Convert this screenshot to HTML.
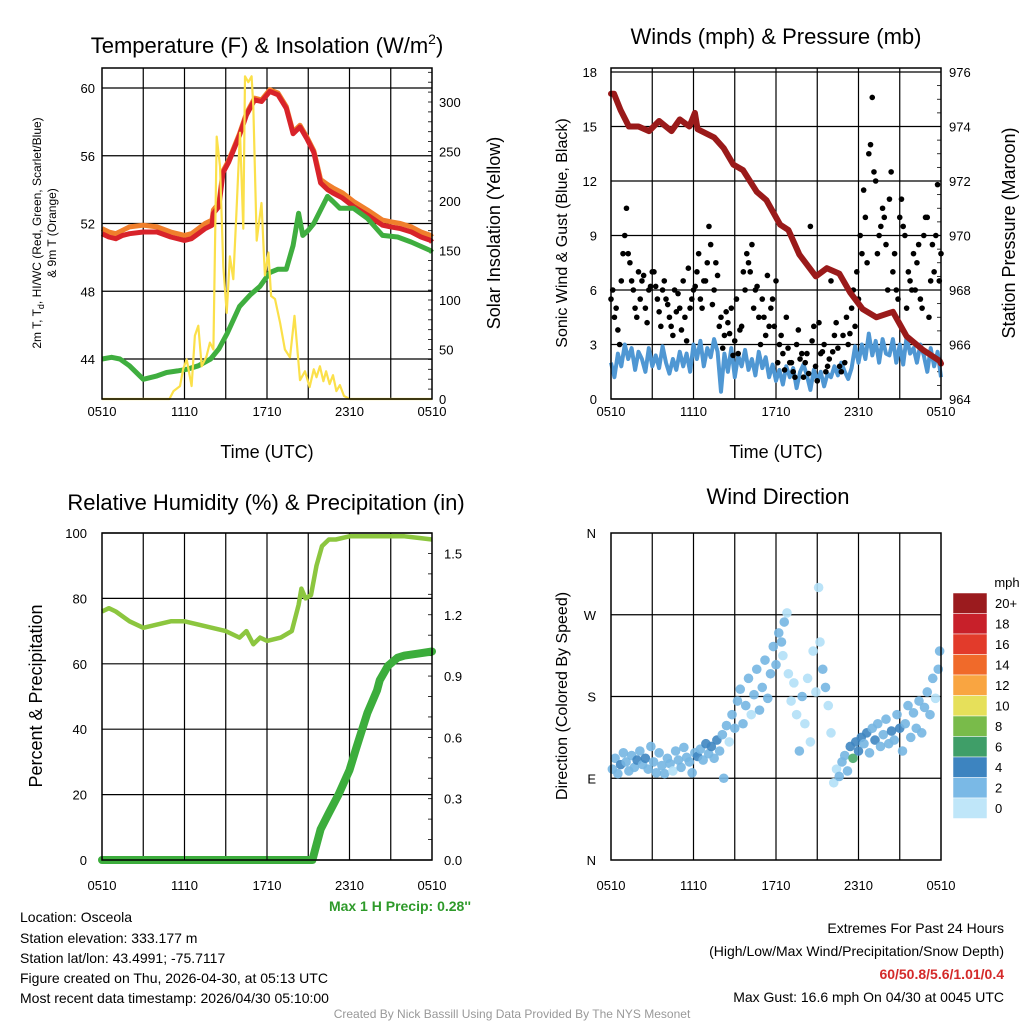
<!DOCTYPE html>
<html><head><meta charset="utf-8"><style>
html,body{margin:0;padding:0;background:#fff}
svg{display:block;font-family:"Liberation Sans",sans-serif}
</style></head><body>
<svg id="fig" width="1024" height="1024" viewBox="0 0 1024 1024" xmlns="http://www.w3.org/2000/svg">
<rect width="1024" height="1024" fill="#fff"/>
<g id="layer"></g>
<text x="267" y="53" font-size="22" text-anchor="middle">Temperature (F) &amp; Insolation (W/m<tspan font-size="14" dy="-9">2</tspan><tspan dy="9">)</tspan></text>
<text x="776" y="44" font-size="22" text-anchor="middle">Winds (mph) &amp; Pressure (mb)</text>
<text x="266" y="510" font-size="22" text-anchor="middle">Relative Humidity (%) &amp; Precipitation (in)</text>
<text x="778" y="504" font-size="22" text-anchor="middle">Wind Direction</text>
<text x="267" y="458" font-size="18" text-anchor="middle">Time (UTC)</text>
<text x="776" y="458" font-size="18" text-anchor="middle">Time (UTC)</text>
<text transform="translate(41,233) rotate(-90)" font-size="12" text-anchor="middle">2m T, T<tspan font-size="9" dy="3">d</tspan><tspan dy="-3">, HI/WC (Red, Green, Scarlet/Blue)</tspan></text>
<text transform="translate(56,233) rotate(-90)" font-size="12" text-anchor="middle">&amp; 9m T (Orange)</text>
<text transform="translate(500,233) rotate(-90)" font-size="18" text-anchor="middle">Solar Insolation (Yellow)</text>
<text transform="translate(567,233) rotate(-90)" font-size="16" text-anchor="middle">Sonic Wind &amp; Gust (Blue, Black)</text>
<text transform="translate(1015,233) rotate(-90)" font-size="18" text-anchor="middle">Station Pressure (Maroon)</text>
<text transform="translate(42,696) rotate(-90)" font-size="18" text-anchor="middle">Percent &amp; Precipitation</text>
<text transform="translate(567,696) rotate(-90)" font-size="16" text-anchor="middle">Direction (Colored By Speed)</text>
<text x="471" y="911" font-size="14" font-weight="bold" fill="#2e9a2a" text-anchor="end">Max 1 H Precip: 0.28''</text>
<g font-size="14">
<text x="20" y="922">Location: Osceola</text>
<text x="20" y="943">Station elevation: 333.177 m</text>
<text x="20" y="963">Station lat/lon: 43.4991; -75.7117</text>
<text x="20" y="983">Figure created on Thu, 2026-04-30, at 05:13 UTC</text>
<text x="20" y="1003">Most recent data timestamp: 2026/04/30 05:10:00</text>
</g>
<g font-size="14" text-anchor="end">
<text x="1004" y="933">Extremes For Past 24 Hours</text>
<text x="1004" y="956">(High/Low/Max Wind/Precipitation/Snow Depth)</text>
<text x="1004" y="979" font-weight="bold" fill="#d42a2a">60/50.8/5.6/1.01/0.4</text>
<text x="1004" y="1002">Max Gust: 16.6 mph On 04/30 at 0045 UTC</text>
</g>
<text x="512" y="1018" font-size="12" fill="#999" text-anchor="middle">Created By Nick Bassill Using Data Provided By The NYS Mesonet</text>
</svg>
<script>
const timeTicks = ["0510","1110","1710","2310","0510"];
const tempTicks = [44,48,52,56,60];
const solarTicks = [0,50,100,150,200,250,300];
const windTicks = [0,3,6,9,12,15,18];
const presTicks = [964,966,968,970,972,974,976];
const rhTicks = [0,20,40,60,80,100];
const precipTicks = [0.0,0.3,0.6,0.9,1.2,1.5];
const precipTickLabels = ["0.0","0.3","0.6","0.9","1.2","1.5"];
const dirTickLabels = ["N","E","S","W","N"];

const tempHours = [0,0.5,1,1.5,2,3,4,5,6,6.5,7,7.5,8,8.1,8.5,8.8,9.2,9.6,10,10.5,11.1,11.6,12.2,12.8,13.4,13.9,14.4,14.9,15.4,15.9,16.4,16.8,17.5,18.3,19.3,20.4,21.0,21.7,22.5,23.2,23.9,24];
const tempRed = [51.4,51.2,51.1,51.3,51.4,51.5,51.5,51.2,51.0,51.1,51.4,51.7,51.9,52.6,53.0,55.0,55.6,56.4,57.2,58.4,59.3,59.2,59.8,59.6,58.8,57.3,57.7,57.0,56.2,54.4,54.0,53.8,53.5,53.0,52.5,51.9,51.8,51.7,51.5,51.2,51.0,50.9];
const tempOrange = [51.7,51.5,51.4,51.6,51.8,51.9,51.8,51.5,51.3,51.4,51.7,52.0,52.2,52.8,53.2,55.1,55.7,56.5,57.3,58.5,59.4,59.3,59.9,59.7,58.9,57.4,57.8,57.1,56.3,54.6,54.3,54.1,53.8,53.3,52.8,52.2,52.1,52.0,51.8,51.5,51.3,51.2];
const dewHours = [0,0.7,1.3,2,3,4,4.7,5.5,6.2,7,7.9,8.5,9.1,10,10.8,11.5,12.2,12.8,13.4,13.9,14.3,14.6,15.0,15.4,15.9,16.4,16.8,17.3,18.3,19.3,20.4,21.5,22.5,23.9,24];
const dewGreen = [44.0,44.1,44.0,43.6,42.8,43.0,43.2,43.3,43.4,43.6,44.0,44.6,45.5,47.1,47.8,48.3,49.1,49.3,49.3,50.7,52.6,51.3,51.6,52.0,52.8,53.6,53.3,52.9,52.9,52.3,51.3,51.2,50.9,50.4,50.3];
const solarHours = [0,4.9,5.2,5.67,5.9,6.16,6.52,6.76,7.0,7.25,7.6,7.85,8.1,8.34,8.58,8.82,9.07,9.3,9.55,9.79,10.04,10.28,10.4,10.64,10.88,11.0,11.25,11.6,11.85,12.1,12.3,12.58,12.95,13.3,13.67,14.0,14.4,14.76,15.1,15.4,15.6,15.85,16.1,16.3,16.55,16.8,17.05,17.3,17.6,18.0,24];
const solarVals = [0,0,8,13,30,40,13,64,74,33,43,57,50,265,235,134,87,144,121,192,269,172,326,320,326,296,160,198,125,148,104,101,77,50,42,84,19,28,12,30,22,33,18,28,15,24,8,14,3,0,0];
const presHours = [0,0.22,0.7,1.3,2,2.76,3.5,4.4,5.0,5.7,6.1,6.3,7.5,8.2,8.9,9.6,10.6,11.3,12.3,12.9,13.7,14.9,15.7,16.6,17.4,18.3,19.3,20.5,21.5,22.7,23.9,24];
const presVals = [975.2,975.2,974.6,974.0,974.0,973.83,974.2,973.83,974.26,974.0,974.5,973.9,973.6,973.2,972.6,972.4,971.6,971.3,970.4,970.2,969.3,968.5,968.8,968.6,967.9,967.3,967.0,967.2,966.3,965.8,965.4,965.3];
const windVals = [2,1.2,2.5,1.8,3,2.2,2.8,1.6,2.6, 2.2,1.5,2.8,1.8,2.4,1.7,2.9,2, 1.4,2.2,1.6,2.6,1.8,2.5,1.5,3, 2.2,3.2,1.8,2.8,2.3,3.3,2.6,0.4, 2.5,1.5,2.8,1.2,2.4,1.8,2.7,1.6, 2.2,1.3,2.6,1.7,2.3,1.2,1.9,1, 1.6,0.8,1.8,1.2,1.7,0.6,1.5,1.9, 1.3,0.5,1.6,1,1.5,0.7,1.4,1.2, 1.8,1.3,2,1.5,1.1,1.7,2.9,2, 3,2.2,3.6,2.4,3.2,2,3.3,2.5, 2.4,3.3,2,3,1.9,3.4,2.5,2.8, 2,3,2.4,1.5,2.8,1.8,2.6,1.2];
const gustA = [5.5,4.5,3.8,6.5,9,8,6.5,5,7, 6.5,5,6,7,6.2,4.8,6,5.5, 4.5,3.5,4.8,5,6.5,3.2,5,6, 7,5.5,6.5,7.5,8.5,6,6.8,4.5, 3.5,4.2,5,3.2,2.5,4,6,7.5, 8.5,6,4.5,5.5,3.5,4,5.5,6.5, 3,2.5,4.5,2,1.5,3,2.2,1.2, 2.5,9.5,4,1,2.5,3,1.8,6.5, 3.5,2.8,1.5,2,3,5,4,5.5, 8,10,13.5,16.6,12,9,10.5,8.5, 11,7,6,10,9.5,5,6.5,8, 7.5,5.5,9,10,6.5,7,11.8,8];
const gustB = [6,5,3,8,10.5,7.5,6,4.5, 5.5,6.8,4.2,6.2,7,5.5,4,6.5, 5.2,4,6,5.8,3.8,4.5,7.2,5.5, 6.2,8,5,6.5,9.5,5.2,7.5,4, 2.8,4.8,3.6,2.4,5.5,3.8,7,8, 7,5,6.2,3,4.5,6.8,5,4, 2,3.5,1.6,2.8,2,1.2,3.8,2.5, 2,1.4,3.2,1.8,4.2,2.6,1.5,2.2, 2.6,4.2,1.8,3.5,4.5,3.6,6,7, 9,11.5,7.5,14,12.5,8,9.5,10, 6,12.5,8,5.5,11,9,7,6, 6,8.5,5,10,4.5,8.5,9,6.5];
const rhHours = [0,0.5,1,2,3,4,5,6,7,8,9,10,10.5,11,11.5,12,13,13.8,14.3,14.5,14.8,15.2,15.6,16,16.5,17,18,20,22,23,24];
const rhVals = [76,77,76,73,71,72,73,73,72,71,70,68,70,66,68,67,68,70,78,83,80,81,90,96,98,98,99,99,99,98.5,98];
const precipHours = [0,15.3,15.5,15.9,16.5,17.2,18.0,18.5,19.3,20.0,20.2,20.8,21.5,22,23,24];
const precipVals = [0,0,0.05,0.15,0.23,0.32,0.44,0.55,0.72,0.83,0.88,0.95,0.99,1.0,1.01,1.02];
const dirHours = [0.1,0.3,0.5,0.7,0.9,1.1,1.3,1.5,1.7,1.9,2.1,2.3,2.5,2.7,2.9,3.1,3.3,3.5,3.7,3.9,4.1,4.3,4.5,4.7,4.9,5.1,5.3,5.5,5.7,5.9,6.1,6.3,6.5,6.7,6.9,7.1,7.3,7.5,7.7,7.9,8.1,8.2,8.4,8.6,8.8,9.0,9.2,9.4,9.6,9.8,10.0,10.2,10.4,10.6,10.8,11.0,11.2,11.4,11.6,11.8,12.0,12.2,12.4,12.5,12.6,12.8,12.9,13.1,13.3,13.5,13.7,13.9,14.1,14.3,14.5,14.7,14.9,15.1,15.2,15.4,15.6,15.8,16.0,16.2,16.4,16.6,16.8,17.0,17.2,17.4,17.6,17.8,18.0,18.2,18.4,18.6,18.8,19.0,19.2,19.4,19.6,19.8,20.0,20.2,20.4,20.6,20.8,21.0,21.2,21.4,21.6,21.8,22.0,22.2,22.4,22.6,22.8,23.0,23.2,23.4,23.6,23.8,23.9];
const dirDeg = [100,112,95,105,118,108,98,115,102,110,120,105,112,100,125,108,96,118,104,95,112,106,98,120,110,102,124,113,108,96,118,114,122,110,128,117,125,112,132,120,138,90,148,130,160,145,175,188,150,170,200,160,182,210,165,190,220,178,205,235,215,250,240,225,262,272,205,175,195,160,120,180,150,200,130,230,185,300,240,210,190,170,140,85,100,92,108,115,98,125,112,130,120,135,128,140,118,145,132,150,125,138,155,128,142,132,160,145,120,150,170,135,162,145,175,140,168,185,160,200,178,210,230];
const dirSpeedCat = [1,1,1,2,1,1,1,1,1,2,1,1,2,1,1,1,1,1,1,1,1,1,0,1,1,1,1,1,1,1,1,2,1,1,2,1,2,1,2,1,1,1,1,0,1,1,1,1,1,1,1,0,1,1,1,1,1,1,1,1,1,1,1,0,1,0,0,0,0,0,1,1,0,0,0,0,0,0,0,1,1,0,0,0,0,1,1,1,1,2,3,2,2,2,1,2,1,1,2,1,1,1,1,1,2,1,1,2,1,1,1,1,1,1,1,1,1,1,1,1,0,1,1];
const speedColors = ["#b3e0f7","#76b6e2","#3f86c1","#48a86a"];
const cbLabels = ["20+","18","16","14","12","10","8","6","4","2","0"];
const cbColors = ["#9b1b1e","#c8202a","#e23b2b","#f06a2a","#f9a541","#e6e05a","#79bb4a","#3f9e68","#3d84c0","#7ab9e6","#bfe6f9"];

const NS="http://www.w3.org/2000/svg";
const layer=document.getElementById('layer');
function mk(tag,attrs,parent){const e=document.createElementNS(NS,tag);for(const k in attrs)e.setAttribute(k,attrs[k]);(parent||layer).appendChild(e);return e;}
function lin(d0,d1,r0,r1){return v=>r0+(v-d0)*(r1-r0)/(d1-d0);}
function pathFrom(xs,ys,fx,fy){return xs.map((x,i)=>(i?'L':'M')+fx(x).toFixed(1)+','+fy(ys[i]).toFixed(1)).join('');}

function panel(L,T,R,B,name){
  const fx=lin(0,24,L,R);
  const g=mk('g',{});
  
  
  for(let h=3;h<24;h+=3){mk('line',{x1:fx(h),x2:fx(h),y1:T,y2:B,stroke:'#000','stroke-width':1.2},g);}
  return {fx,g};
}
function frame(L,T,R,B,name){
  const r=mk('rect',{x:L,y:T,width:R-L,height:B-T,fill:'none',stroke:'#000','stroke-width':1.5});
  
  
}
function hgrid(g,L,R,ys){ys.forEach(y=>mk('line',{x1:L,x2:R,y1:y,y2:y,stroke:'#000','stroke-width':1.2},g));}
function xlabels(fx,B,name,off){
  const g=mk('g',{'font-size':13,'text-anchor':'middle'});
  
  
  timeTicks.forEach((t,i)=>{mk('line',{x1:fx(i*6),x2:fx(i*6),y1:B,y2:B-5,stroke:'#000'},g);const e=mk('text',{x:fx(i*6),y:B+off},g);e.textContent=t;});
}
function ylabels(vals,labels,fy,x,anchor,name){
  const g=mk('g',{'font-size':13,'text-anchor':anchor});
  
  
  vals.forEach((v,i)=>{const e=mk('text',{x:x,y:fy(v)+5},g);e.textContent=labels[i];});
  return g;
}

(function(){
  const L=102,T=68,R=432,B=399;
  const {fx,g}=panel(L,T,R,B,'temp');
  const fy=lin(44,60,359,88);
  const fs=lin(0,300,399,102);
  hgrid(g,L,R,tempTicks.map(fy));
  for(let v=10;v<=330;v+=10){mk('line',{x1:R,x2:R-4,y1:fs(v),y2:fs(v),stroke:'#000','stroke-width':0.8},g);}
  const o=mk('path',{d:pathFrom(tempHours,tempOrange,fx,fy),fill:'none',stroke:'#f07f2c','stroke-width':5,'stroke-linejoin':'round'});
  
  
  const r=mk('path',{d:pathFrom(tempHours,tempRed,fx,fy),fill:'none',stroke:'#d8232a','stroke-width':5,'stroke-linejoin':'round'});
  
  
  const gr=mk('path',{d:pathFrom(dewHours,dewGreen,fx,fy),fill:'none',stroke:'#3fae3f','stroke-width':5,'stroke-linejoin':'round'});
  
  
  const s=mk('path',{d:pathFrom(solarHours,solarVals.map(v=>Math.min(v,334)),fx,fs),fill:'none',stroke:'#fbe04a','stroke-width':2.2,'stroke-linejoin':'round'});
  
  
  frame(L,T,R,B,'temp');
  xlabels(fx,B,'temp',17);
  ylabels(tempTicks,tempTicks.map(String),fy,95,'end','temp-y-ticks');
  ylabels(solarTicks,solarTicks.map(String),fs,439,'start','solar-y-ticks');
})();

(function(){
  const L=611,T=68,R=941,B=399;
  const {fx,g}=panel(L,T,R,B,'wind');
  const fy=lin(0,18,399,72);
  const fp=lin(964,976,399,72);
  hgrid(g,L,R,windTicks.map(fy));
  for(let v=964.5;v<976.2;v+=0.5){mk('line',{x1:R,x2:R-4,y1:fp(v),y2:fp(v),stroke:'#000','stroke-width':0.8},g);}
  const wh=windVals.map((v,i)=>i*0.25);
  const w=mk('path',{d:pathFrom(wh,windVals,fx,fy),fill:'none',stroke:'#4f97d3','stroke-width':4,'stroke-linejoin':'round'});
  
  
  const gg=mk('g',{fill:'#000'});
  
  
  gustA.forEach((v,i)=>{const c=mk('circle',{cx:fx(i*0.25),cy:fy(v),r:2.8},gg);});
  gustB.forEach((v,i)=>{const c=mk('circle',{cx:fx(i*0.25+0.125),cy:fy(v),r:2.8},gg);});
  const p=mk('path',{d:pathFrom(presHours,presVals,fx,fp),fill:'none',stroke:'#9a1a1a','stroke-width':6,'stroke-linejoin':'round','stroke-linecap':'round'});
  
  
  frame(L,T,R,B,'wind');
  xlabels(fx,B,'wind',17);
  ylabels(windTicks,windTicks.map(String),fy,597,'end','wind-y-ticks');
  ylabels(presTicks,presTicks.map(String),fp,949,'start','pressure-y-ticks');
})();

(function(){
  const L=102,T=533,R=432,B=860;
  const {fx,g}=panel(L,T,R,B,'rh');
  const fy=lin(0,100,860,533);
  const fp=lin(0,1.6,860,533);
  hgrid(g,L,R,rhTicks.map(fy));
  for(let v=0.1;v<1.6;v+=0.1){mk('line',{x1:R,x2:R-4,y1:fp(v),y2:fp(v),stroke:'#000','stroke-width':0.8},g);}
  const rh=mk('path',{d:pathFrom(rhHours,rhVals,fx,fy),fill:'none',stroke:'#8cc63f','stroke-width':4.5,'stroke-linejoin':'round'});
  
  
  const pr=mk('path',{d:pathFrom(precipHours,precipVals,fx,fp),fill:'none',stroke:'#3cad3c','stroke-width':8,'stroke-linejoin':'round','stroke-linecap':'round'});
  
  
  frame(L,T,R,B,'rh');
  xlabels(fx,B,'rh',30);
  ylabels(rhTicks,rhTicks.map(String),fy,87,'end','rh-y-ticks');
  ylabels(precipTicks,precipTickLabels,fp,444,'start','precip-y-ticks');
})();

(function(){
  const L=611,T=533,R=941,B=860;
  const {fx,g}=panel(L,T,R,B,'dir');
  const fy=lin(0,360,860,533);
  hgrid(g,L,R,[90,180,270].map(fy));
  const pg=mk('g',{'fill-opacity':0.9});
  
  
  dirHours.forEach((h,i)=>{const c=mk('circle',{cx:fx(h),cy:fy(dirDeg[i]),r:4.8,fill:speedColors[dirSpeedCat[i]]},pg);});
  frame(L,T,R,B,'dir');
  xlabels(fx,B,'dir',30);
  ylabels([0,90,180,270,360],dirTickLabels,fy,596,'end','dir-y-ticks');
  const cb=mk('g',{});
  
  
  const t=mk('text',{x:1007,y:587,'font-size':13,'text-anchor':'middle'},cb);t.textContent='mph';
  cbColors.forEach((c,i)=>{
    const y=593+i*20.5;
    const r=mk('rect',{x:953,y:y,width:34,height:20.5,fill:c,stroke:'#fff','stroke-width':0.5},cb);
    
    const tx=mk('text',{x:995,y:y+15,'font-size':13},cb);tx.textContent=cbLabels[i];
  });
})();
</script>
</body></html>
